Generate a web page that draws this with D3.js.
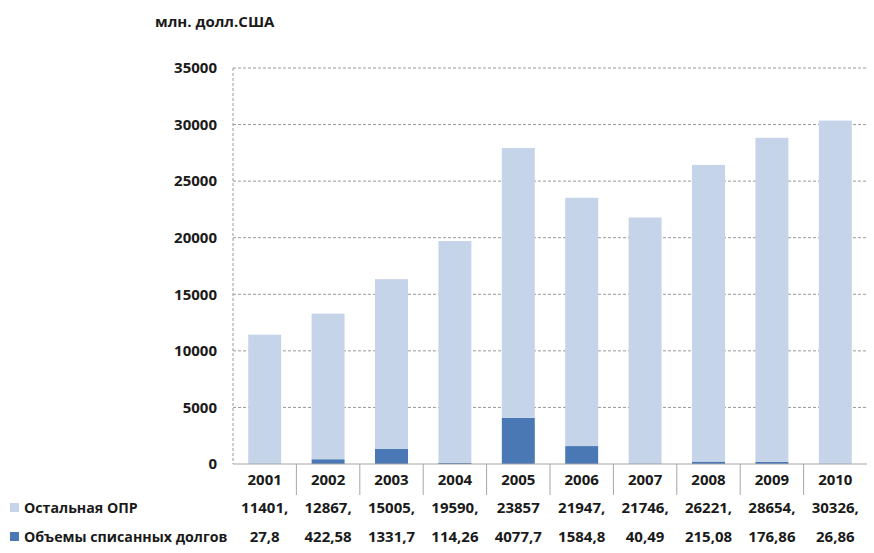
<!DOCTYPE html>
<html><head><meta charset="utf-8">
<script src="https://cdn.jsdelivr.net/npm/d3@7"></script>
<style>
body{margin:0;background:#fff;}
text{font-family:"Open Sans","DejaVu Sans",sans-serif;font-weight:bold;fill:#1a1a1a;}
</style></head>
<body><svg id="c" width="874" height="553"></svg>
<script>
const years = ["2001","2002","2003","2004","2005","2006","2007","2008","2009","2010"];
const otherODA = [11401, 12867, 15005, 19590, 23857, 21947, 21746, 26221, 28654, 30326];
const otherODALabels = ["11401,","12867,","15005,","19590,","23857","21947,","21746,","26221,","28654,","30326,"];
const debtRelief = [27.8, 422.58, 1331.7, 114.26, 4077.7, 1584.8, 40.49, 215.08, 176.86, 26.86];
const debtReliefLabels = ["27,8","422,58","1331,7","114,26","4077,7","1584,8","40,49","215,08","176,86","26,86"];
const yTicks = [0,5000,10000,15000,20000,25000,30000,35000];
const seriesNames = ["Остальная ОПР","Объемы списанных долгов"];
const colors = ["#c5d4e8","#4a78b4"];

const svg = d3.select("#c");
const L = 233, R = 867, T = 68, B = 464;
const x = d3.scaleBand().domain(years).range([L, R]).paddingInner(0.48).paddingOuter(0.24);
const xb = d3.scaleBand().domain(years).range([L, R]);
const y = d3.scaleLinear().domain([0, 35000]).range([B, T]);

// gridlines
svg.append("g").selectAll("line").data(yTicks.filter(d=>d>0)).join("line")
  .attr("x1", L).attr("x2", R).attr("y1", d=>y(d)).attr("y2", d=>y(d))
  .attr("stroke", "#999").attr("stroke-width", 1).attr("stroke-dasharray", "3,2");
// y axis (dashed)
svg.append("line").attr("x1", L).attr("x2", L).attr("y1", T).attr("y2", B)
  .attr("stroke", "#999").attr("stroke-dasharray", "3,2");

// stacked bars
const data = years.map((yr,i)=>({year:yr, debt:debtRelief[i], other:otherODA[i]}));
const stack = d3.stack().keys(["debt","other"])(data);
const barColors = {debt: colors[1], other: colors[0]};
svg.append("g").selectAll("g").data(stack).join("g")
  .attr("fill", s=>barColors[s.key])
  .selectAll("rect").data(s=>s).join("rect")
  .attr("x", d=>x(d.data.year)).attr("width", x.bandwidth())
  .attr("y", d=>y(d[1])).attr("height", d=>y(d[0])-y(d[1]));

// bottom axis line
svg.append("line").attr("x1", L).attr("x2", R).attr("y1", B).attr("y2", B)
  .attr("stroke", "#a6a6a6").attr("stroke-width", 1.2);

// y tick labels
svg.append("g").selectAll("text").data(yTicks).join("text")
  .attr("x", 217).attr("y", d=>y(d)).attr("dy","0.35em")
  .attr("text-anchor","end").attr("font-size", 15).text(d=>d);

// table separators
svg.append("g").selectAll("line").data(years.slice(1)).join("line")
  .attr("x1", d=>xb(d)).attr("x2", d=>xb(d)).attr("y1", B).attr("y2", 495)
  .attr("stroke", "#a6a6a6");

// year labels
svg.append("g").selectAll("text").data(years).join("text")
  .attr("x", d=>xb(d)+xb.bandwidth()/2).attr("y", 480).attr("dy","0.35em")
  .attr("text-anchor","middle").attr("font-size", 15).text(d=>d);

// data rows
const rows = [otherODALabels, debtReliefLabels];
const rowY = [508, 537];
rows.forEach((labs, r)=>{
  svg.append("g").selectAll("text").data(labs).join("text")
    .attr("x", (d,i)=>xb(years[i])+xb.bandwidth()/2).attr("y", rowY[r]).attr("dy","0.35em")
    .attr("text-anchor","middle").attr("font-size", 15).text(d=>d);
  svg.append("rect").attr("x", 10).attr("y", rowY[r]-5).attr("width", 9).attr("height", 9)
    .attr("fill", colors[r]);
  svg.append("text").attr("x", 24).attr("y", rowY[r]).attr("dy","0.35em")
    .attr("font-size", 14.2).text(seriesNames[r]);
});

// unit title
svg.append("text").attr("x", 155).attr("y", 22).attr("dy","0.35em")
  .attr("font-size", 15).text("млн. долл.США");
</script></body></html>
